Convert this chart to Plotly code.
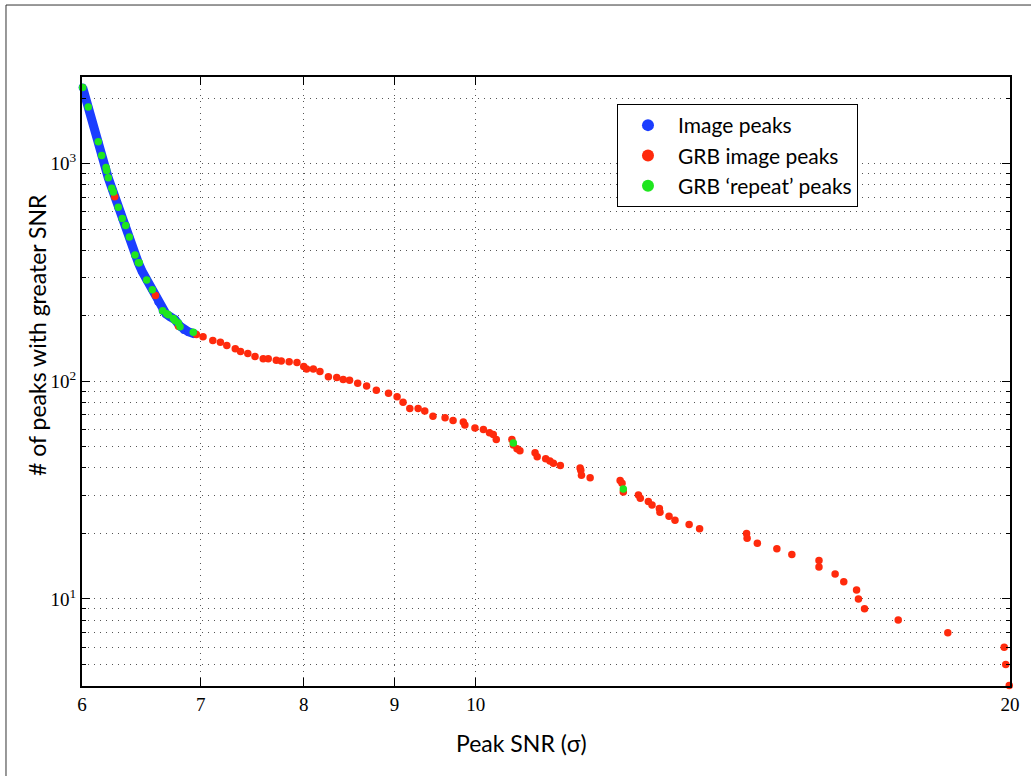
import math
import plotly.graph_objects as go

# Image peaks (dense cumulative curve)
blue_snr = [6.005, 6.023, 6.049, 6.086, 6.128, 6.155, 6.19, 6.208, 6.241, 6.289, 6.322, 6.35, 6.38,
            6.427, 6.455, 6.486, 6.525, 6.573, 6.624, 6.662, 6.691, 6.726, 6.769, 6.814, 6.849, 6.887, 6.947]
blue_n = [2240, 2040, 1820, 1520, 1260, 1090, 950, 860, 760, 630, 560, 520, 460,
          380, 350, 320, 292, 263, 232, 211, 204, 198, 192, 179, 172, 169, 165]

# GRB image peaks
red_snr = [6.26, 6.6, 6.8, 6.96, 7.02, 7.11, 7.18, 7.24, 7.32, 7.37, 7.44, 7.51, 7.59, 7.64, 7.72, 7.77,
           7.85, 7.93, 8.0, 8.03, 8.1, 8.17, 8.26, 8.35, 8.42, 8.49, 8.58, 8.68, 8.79, 8.93, 9.03, 9.1,
           9.18, 9.28, 9.36, 9.46, 9.61, 9.71, 9.84, 9.86, 9.99, 10.1, 10.18, 10.23, 10.27, 10.48, 10.5,
           10.55, 10.59, 10.8, 10.83, 10.95, 11.01, 11.06, 11.16, 11.45, 11.46, 11.47, 11.6, 12.06, 12.09,
           12.11, 12.35, 12.38, 12.51, 12.57, 12.69, 12.7, 12.85, 12.95, 13.19, 13.37, 14.21, 14.22, 14.41,
           14.78, 15.07, 15.61, 15.61, 15.94, 16.12, 16.39, 16.43, 16.56, 17.3, 18.45, 19.85, 19.89, 19.98]
red_n = [704, 248, 179, 164, 160, 154, 151, 146, 141, 137, 134, 130, 127, 127, 125, 124,
         123, 122, 117, 114, 114, 111, 105, 104, 102, 101, 98, 95, 91, 88, 85, 80,
         75, 75, 73, 69, 68, 66, 65, 63, 61, 60, 58, 57, 54, 54, 51,
         49, 48, 47, 45, 44, 43, 42, 41, 40, 39, 37, 36, 35, 34,
         31, 30, 29, 28, 27, 26, 25, 24, 23, 22, 21, 20, 19, 18,
         17, 16, 15, 14, 13, 12, 11, 10, 9, 8, 7, 6, 5, 4]

# GRB 'repeat' peaks
green_snr = [6.005, 6.049, 6.128, 6.155, 6.19, 6.195, 6.208, 6.236, 6.249, 6.289, 6.322, 6.35, 6.38, 6.427,
             6.455, 6.463, 6.525, 6.573, 6.662, 6.697, 6.711, 6.755, 6.769, 6.799, 6.814, 6.932, 10.5, 12.11]
green_n = [2240, 1820, 1260, 1090, 960, 930, 860, 770, 740, 630, 560, 520, 460, 380,
           350, 350, 292, 263, 211, 204, 202, 194, 190, 185, 178, 168, 52, 32]

x_ticks = [6, 7, 8, 9, 10, 20]
x_ticktext = ["6", "7", "8", "9", "10", "20"]
y_ticks = [10, 100, 1000]
y_ticktext = ["10<sup>1</sup>", "10<sup>2</sup>", "10<sup>3</sup>"]
y_minor = [m * 10 ** e for e in range(0, 4) for m in range(2, 10) if 4 <= m * 10 ** e <= 2500]

BLUE = "#1b3dff"
RED = "#ff2a0c"
GREEN = "#1fe61f"
SANS = "Lato, 'Open Sans', sans-serif"
SERIF = "'Liberation Serif', 'DejaVu Serif', serif"

fig = go.Figure()
fig.add_trace(go.Scatter(x=blue_snr, y=blue_n, mode="lines", line=dict(color=BLUE, width=9),
                         showlegend=False, hoverinfo="skip", cliponaxis=False))
fig.add_trace(go.Scatter(x=blue_snr, y=blue_n, mode="markers", name="Image peaks",
                         marker=dict(color=BLUE, size=8), cliponaxis=False))
fig.add_trace(go.Scatter(x=red_snr, y=red_n, mode="markers", name="GRB image peaks",
                         marker=dict(color=RED, size=7.5), cliponaxis=False))
fig.add_trace(go.Scatter(x=green_snr, y=green_n, mode="markers", name="GRB \u2018repeat\u2019 peaks",
                         marker=dict(color=GREEN, size=7.5), cliponaxis=False))

grid_dash = "1px,5px"
fig.update_xaxes(type="log", range=[math.log10(6), math.log10(20)],
                 tickmode="array", tickvals=x_ticks, ticktext=x_ticktext,
                 ticks="inside", ticklen=8, tickwidth=1, tickcolor="black",
                 showline=True, linewidth=2, linecolor="black", mirror="ticks",
                 showgrid=True, gridcolor="#555555", griddash=grid_dash, gridwidth=1,
                 zeroline=False, tickfont=dict(family=SERIF, size=19, color="black"))
fig.update_yaxes(type="log", range=[math.log10(3.98), math.log10(2500)],
                 tickmode="array", tickvals=y_ticks, ticktext=y_ticktext,
                 ticks="inside", ticklen=8, tickwidth=1, tickcolor="black",
                 showline=True, linewidth=2, linecolor="black", mirror="ticks",
                 showgrid=True, gridcolor="#555555", griddash=grid_dash, gridwidth=1,
                 minor=dict(tickvals=y_minor, ticks="inside", ticklen=4, tickcolor="black",
                            showgrid=True, gridcolor="#555555", griddash=grid_dash, gridwidth=1),
                 zeroline=False, tickfont=dict(family=SERIF, size=19, color="black"))

# axis titles (placed as in the reference)
fig.add_annotation(text="Peak SNR (\u03c3)", xref="paper", yref="paper", x=0.474, y=-0.0936,
                   xanchor="center", yanchor="middle", showarrow=False,
                   font=dict(family=SANS, size=23, color="black"))
fig.add_annotation(text="# of peaks with greater SNR", xref="paper", yref="paper", x=-0.0485, y=0.5764,
                   xanchor="center", yanchor="middle", textangle=-90, showarrow=False,
                   font=dict(family=SANS, size=23, color="black"))

fig.add_shape(type="rect", xref="paper", yref="paper", x0=-0.0819, x1=1.05, y0=-0.2, y1=1.1182,
              line=dict(color="#333333", width=1), fillcolor="rgba(0,0,0,0)", layer="below")

fig.update_layout(width=1031, height=776, margin=dict(l=82, r=21, t=77, b=90, autoexpand=False),
                  plot_bgcolor="white", paper_bgcolor="white",
                  legend=dict(x=0.5765, y=0.9557, xanchor="left", yanchor="top",
                              bgcolor="white", bordercolor="black", borderwidth=1,
                              font=dict(family=SANS, size=21, color="black"),
                              itemsizing="constant", itemwidth=50),
                  hovermode=False)
fig.write_html("out.html")
